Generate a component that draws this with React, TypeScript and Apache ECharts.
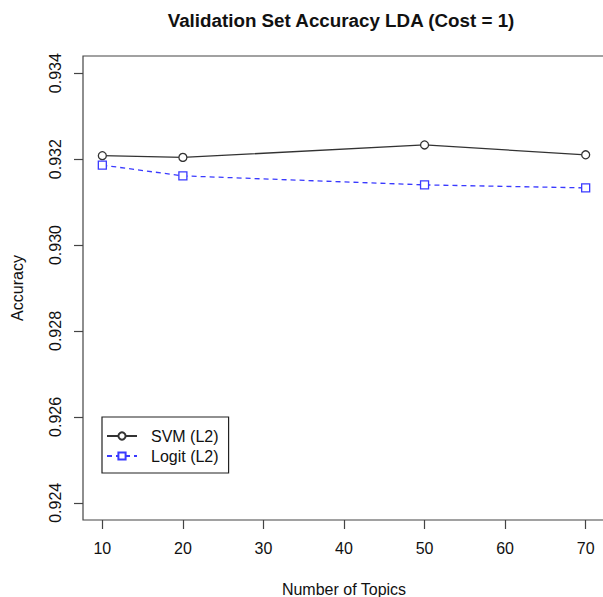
import React, { useEffect, useRef } from "react";
import * as echarts from "echarts";

const topics = [10, 20, 50, 70];
const svmValues = [0.93208, 0.93204, 0.93233, 0.9321];
const logitValues = [0.93186, 0.93161, 0.9314, 0.93133];
const xTicks = [10, 20, 30, 40, 50, 60, 70];
const yTicks = [0.924, 0.926, 0.928, 0.93, 0.932, 0.934];
const seriesNames = ["SVM (L2)", "Logit (L2)"];

const FONT = "Liberation Sans, Arial, Helvetica, sans-serif";

export default function App() {
  const ref = useRef<HTMLDivElement>(null);
  useEffect(() => {
    document.body.style.margin = "0";
    const chart = echarts.init(ref.current!, null, { renderer: "svg" });
    const xPad = (70 - 10) * 0.04;
    const yPad = (0.934 - 0.924) * 0.04;
    chart.setOption({
      animation: false,
      backgroundColor: "#ffffff",
      textStyle: { fontFamily: FONT },
      title: {
        text: "Validation Set Accuracy LDA (Cost = 1)",
        left: 336,
        textAlign: "center",
        top: 6,
        textStyle: { fontFamily: FONT, fontSize: 18.8, fontWeight: "bold", color: "#111" },
      },
      grid: {
        show: true,
        left: 83,
        top: 56,
        width: 522,
        height: 464,
        outerBoundsMode: "none",
        containLabel: false,
        borderColor: "#444",
        borderWidth: 1.2,
        backgroundColor: "transparent",
      },
      legend: {
        orient: "vertical",
        left: 102,
        top: 417,
        width: 124,
        padding: [11, 10, 9, 4],
        itemWidth: 30,
        itemHeight: 9,
        itemGap: 4,
        borderColor: "#222",
        borderWidth: 1.2,
        textStyle: { fontFamily: FONT, fontSize: 16, color: "#111", padding: [0, 0, 0, 9] },
        data: seriesNames,
      },
      xAxis: {
        type: "value",
        min: 10 - xPad,
        max: 70 + xPad,
        name: "Number of Topics",
        nameLocation: "middle",
        nameGap: 61,
        nameTextStyle: { fontFamily: FONT, fontSize: 16, color: "#111" },
        splitLine: { show: false },
        axisLine: { show: false },
        axisTick: {
          show: true,
          length: 9,
          inside: false,
          customValues: xTicks,
          lineStyle: { color: "#444", width: 1.2 },
        },
        axisLabel: {
          customValues: xTicks,
          margin: 20,
          fontFamily: FONT,
          fontSize: 16,
          color: "#111",
          showMinLabel: true,
          showMaxLabel: true,
        },
      },
      yAxis: {
        type: "value",
        min: 0.924 - yPad,
        max: 0.934 + yPad,
        name: "Accuracy",
        nameLocation: "middle",
        nameGap: 58,
        nameRotate: 90,
        nameTextStyle: { fontFamily: FONT, fontSize: 16, color: "#111" },
        splitLine: { show: false },
        axisLine: { show: false },
        axisTick: {
          show: true,
          length: 9,
          inside: false,
          customValues: yTicks,
          lineStyle: { color: "#444", width: 1.2 },
        },
        axisLabel: {
          customValues: yTicks,
          rotate: 90,
          margin: 20,
          fontFamily: FONT,
          fontSize: 16,
          color: "#111",
          formatter: (v: number) => v.toFixed(3),
        },
      },
      series: [
        {
          name: seriesNames[0],
          type: "line",
          data: topics.map((t, i) => [t, svmValues[i]]),
          symbol: "circle",
          symbolSize: 8,
          showSymbol: true,
          lineStyle: { color: "#333", width: 1.3, type: "solid" },
          itemStyle: { color: "#ffffff", borderColor: "#333", borderWidth: 1.3 },
        },
        {
          name: seriesNames[1],
          type: "line",
          data: topics.map((t, i) => [t, logitValues[i]]),
          symbol: "rect",
          symbolSize: 8,
          showSymbol: true,
          lineStyle: { color: "#3a3aff", width: 1.3, type: [5, 4] },
          itemStyle: { color: "#ffffff", borderColor: "#3a3aff", borderWidth: 1.3 },
        },
      ],
    });
    return () => chart.dispose();
  }, []);
  return <div ref={ref} style={{ width: 603, height: 597 }} />;
}
